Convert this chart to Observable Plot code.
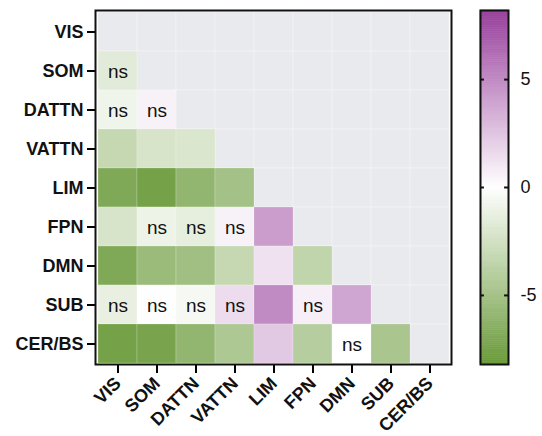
<!DOCTYPE html>
<html>
<head>
<meta charset="utf-8">
<script src="https://cdn.jsdelivr.net/npm/d3@7"></script>
<script src="https://cdn.jsdelivr.net/npm/@observablehq/plot@0.6"></script>
<style>
  body { margin: 0; background: #fff; }
  #wrap { position: relative; width: 542px; height: 436px; }
  #wrap > svg { position: absolute; top: 0; }
</style>
</head>
<body>
<div id="wrap"></div>
<script>
const networks = ["VIS", "SOM", "DATTN", "VATTN", "LIM", "FPN", "DMN", "SUB", "CER/BS"];
// lower triangle: row i holds values against columns 0..i-1
const values = [
  [],
  [-1.6],
  [-0.8, 0.6],
  [-3.2, -2.2, -2.0],
  [-7.0, -7.6, -6.0, -5.0],
  [-2.2, -1.0, -1.4, 0.6, 4.2],
  [-7.0, -5.5, -5.2, -3.2, 1.3, -3.4],
  [-1.2, -0.1, -0.5, 1.5, 5.0, 0.7, 3.8],
  [-7.6, -7.4, -6.0, -4.5, 2.3, -4.0, 0.0, -4.7]
];
const nsFlags = [
  [],
  [1],
  [1, 1],
  [0, 0, 0],
  [0, 0, 0, 0],
  [0, 1, 1, 1, 0],
  [0, 0, 0, 0, 0, 0],
  [1, 1, 1, 1, 0, 1, 0],
  [0, 0, 0, 0, 0, 0, 1, 0]
];
const colorTicks = [-5, 0, 5];
const colorDomain = [-8.2, 0, 8.2];
const colorRange = ["#6a9a3a", "#ffffff", "#983f9c"];

const cells = [];
values.forEach((row, i) => row.forEach((v, j) => cells.push({row: networks[i], col: networks[j], value: v, ns: nsFlags[i][j] === 1})));
const allCells = [];
networks.forEach(r => networks.forEach(c => allCells.push({row: r, col: c})));

const font = "Arial, 'Liberation Sans', Helvetica, sans-serif";
const colorScale = {type: "linear", domain: colorDomain, range: colorRange, interpolate: "rgb"};

const main = Plot.plot({
  width: 465, height: 436,
  marginLeft: 95, marginRight: 14, marginTop: 10, marginBottom: 72,
  style: {fontFamily: font, fontSize: "18px", background: "transparent"},
  x: {type: "band", domain: networks, padding: 0, label: null},
  y: {type: "band", domain: networks, padding: 0, label: null},
  color: colorScale,
  marks: [
    Plot.cell(allCells, {x: "col", y: "row", fill: "#e9eaed", stroke: "#f4f4f6", strokeWidth: 0.6}),
    Plot.cell(cells, {x: "col", y: "row", fill: "value", stroke: "#ffffff", strokeOpacity: 0.35, strokeWidth: 0.6}),
    Plot.text(cells.filter(d => d.ns), {x: "col", y: "row", text: () => "ns", fontSize: 19, fill: "#111", dy: 1}),
    Plot.axisY({tickSize: 8, tickPadding: 4, fontSize: 18, fontWeight: "bold", strokeWidth: 2, fill: "#111"}),
    Plot.axisX({tickSize: 9, tickPadding: 7, tickRotate: -45, fontSize: 18, fontWeight: "bold", strokeWidth: 2, fill: "#111"}),
    Plot.frame({stroke: "#111", strokeWidth: 2})
  ]
});
main.style.left = "0px";

const ramp = d3.range(-82, 82).map(k => ({y1: k / 10, y2: (k + 1) / 10, v: (k + 0.5) / 10}));
const bar = Plot.plot({
  width: 77, height: 436,
  marginLeft: 15, marginRight: 34, marginTop: 10, marginBottom: 72,
  style: {fontFamily: font, fontSize: "18px", background: "transparent"},
  x: {domain: [0, 1], axis: null},
  y: {domain: [-8.2, 8.2], label: null},
  color: colorScale,
  marks: [
    Plot.rect(ramp, {x1: 0, x2: 1, y1: "y1", y2: "y2", fill: "v", stroke: "v", strokeWidth: 0.6}),
    Plot.ruleY(colorTicks, {x1: 0, x2: 0.14, stroke: "#111", strokeWidth: 2}),
    Plot.ruleY(colorTicks, {x1: 0.86, x2: 1, stroke: "#111", strokeWidth: 2}),
    Plot.axisY(colorTicks, {anchor: "right", tickSize: 0, tickPadding: 12, fontSize: 18, fill: "#111", tickFormat: d => d < 0 ? "-" + Math.abs(d) : String(d)}),
    Plot.frame({stroke: "#111", strokeWidth: 2})
  ]
});
bar.style.left = "465px";

const wrap = document.getElementById("wrap");
wrap.appendChild(main);
wrap.appendChild(bar);
</script>
</body>
</html>
